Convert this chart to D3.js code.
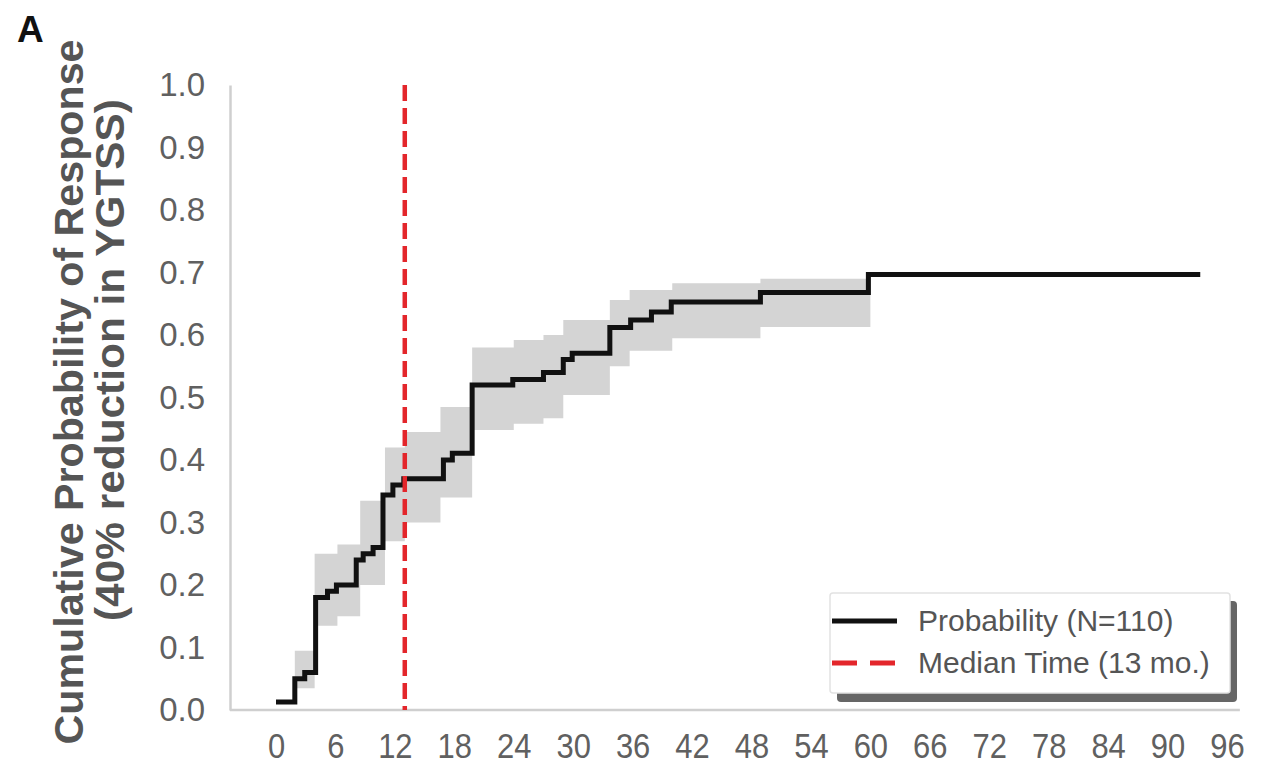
<!DOCTYPE html>
<html>
<head>
<meta charset="utf-8">
<script src="https://cdn.jsdelivr.net/npm/d3@7/dist/d3.min.js"></script>
<style>
  html, body { margin: 0; padding: 0; background: #fff; }
  svg { display: block; font-family: "Liberation Sans", Arial, sans-serif; }
</style>
</head>
<body>
<svg id="chart" width="1271" height="765"></svg>
<script>
// ---- data ----
const stepTimes  = [0, 1.9, 2.9, 4.0, 5.2, 6.1, 8.1, 8.8, 9.8, 10.8, 11.8, 12.9, 16.9, 17.8, 19.8, 23.9, 27.0, 29.0, 29.9, 33.7, 35.8, 37.9, 39.9, 48.9, 59.8, 93.3];
const stepProb   = [0.013, 0.05, 0.06, 0.18, 0.19, 0.20, 0.24, 0.25, 0.26, 0.344, 0.36, 0.37, 0.40, 0.411, 0.52, 0.529, 0.54, 0.561, 0.571, 0.612, 0.624, 0.637, 0.653, 0.668, 0.697, 0.697];
const bandTimes  = [1.9, 3.9, 6.2, 8.5, 11.0, 13.0, 16.6, 19.8, 24.0, 27.0, 29.0, 33.7, 35.7, 40.0, 48.9, 60.0];
const bandLower  = [0.035, 0.135, 0.15, 0.20, 0.27, 0.30, 0.34, 0.448, 0.458, 0.467, 0.504, 0.55, 0.575, 0.595, 0.613, 0.613];
const bandUpper  = [0.095, 0.25, 0.265, 0.335, 0.42, 0.445, 0.485, 0.58, 0.592, 0.60, 0.624, 0.656, 0.672, 0.683, 0.69, 0.69];
const medianTime = 13;
const xTicks = [0, 6, 12, 18, 24, 30, 36, 42, 48, 54, 60, 66, 72, 78, 84, 90, 96];
const yTicks = [0, 0.1, 0.2, 0.3, 0.4, 0.5, 0.6, 0.7, 0.8, 0.9, 1.0];
const legendLabels = ["Probability (N=110)", "Median Time (13 mo.)"];
const yLabelLines = ["Cumulative Probability of Response", "(40% reduction in YGTSS)"];
const panelLabel = "A";

// ---- drawing ----
const svg = d3.select("#chart");
const x = d3.scaleLinear().domain([0, 96]).range([276, 1227]);
const y = d3.scaleLinear().domain([0, 1]).range([710, 85]);

const curve = stepTimes.map((t, i) => ({t, p: stepProb[i]}));
const band = bandTimes.map((t, i) => ({t, lo: bandLower[i], hi: bandUpper[i]}));

// confidence band
svg.append("path")
  .datum(band)
  .attr("fill", "#d4d4d4")
  .attr("d", d3.area().curve(d3.curveStepAfter)
    .x(d => x(d.t)).y0(d => y(d.lo)).y1(d => y(d.hi)));

// axes
const axisColor = "#cfcfcf";
const yAxis = svg.append("g")
  .attr("transform", "translate(230,0)")
  .call(d3.axisLeft(y).tickValues(yTicks).tickSize(0).tickPadding(25).tickFormat(d3.format(".1f")));
yAxis.select(".domain").attr("stroke", axisColor).attr("stroke-width", 2.5);
yAxis.selectAll("text").attr("font-size", 33).attr("fill", "#606060");

const xAxis = svg.append("g")
  .attr("transform", "translate(0,710)")
  .call(d3.axisBottom(x).tickValues(xTicks).tickSize(0).tickPadding(22).tickFormat(d3.format("d")));
xAxis.select(".domain").remove();
xAxis.selectAll("text").attr("font-size", 36).attr("fill", "#606060")
  .attr("transform", "scale(0.86,1)");
svg.append("line")
  .attr("x1", x(-4.65)).attr("x2", x(97.3))
  .attr("y1", y(0)).attr("y2", y(0))
  .attr("stroke", axisColor).attr("stroke-width", 2.5);

// step line
svg.append("path")
  .datum(curve)
  .attr("fill", "none")
  .attr("stroke", "#111")
  .attr("stroke-width", 5)
  .attr("stroke-linejoin", "miter")
  .attr("d", d3.line().curve(d3.curveStepAfter).x(d => x(d.t)).y(d => y(d.p)));

// median line
svg.append("line")
  .attr("x1", x(medianTime)).attr("x2", x(medianTime))
  .attr("y1", y(1)).attr("y2", y(0))
  .attr("stroke", "#e3262b").attr("stroke-width", 4.5)
  .attr("stroke-dasharray", "16,7");

// legend
const lg = svg.append("g");
lg.append("rect").attr("x", 837).attr("y", 601).attr("width", 400).attr("height", 101)
  .attr("rx", 4).attr("fill", "#666");
lg.append("rect").attr("x", 830).attr("y", 593).attr("width", 400).attr("height", 100)
  .attr("rx", 3).attr("fill", "#fff").attr("stroke", "#e2e2e2").attr("stroke-width", 1.5);
lg.append("line").attr("x1", 832).attr("x2", 897).attr("y1", 621).attr("y2", 621)
  .attr("stroke", "#111").attr("stroke-width", 5);
lg.append("line").attr("x1", 832).attr("x2", 897).attr("y1", 663).attr("y2", 663)
  .attr("stroke", "#e3262b").attr("stroke-width", 5).attr("stroke-dasharray", "25,13");
lg.selectAll("text.lab").data(legendLabels).enter().append("text")
  .attr("class", "lab")
  .attr("x", 918).attr("y", (d, i) => 631 + i * 42)
  .attr("font-size", 30).attr("fill", "#555")
  .text(d => d);

// y label
const ylabPos = [{cx: 83, cy: 392, len: 705}, {cx: 124, cy: 360, len: 522}];
yLabelLines.forEach((s, i) => {
  svg.append("text")
    .attr("transform", `translate(${ylabPos[i].cx},${ylabPos[i].cy}) rotate(-90)`)
    .attr("text-anchor", "middle")
    .attr("font-size", 40).attr("font-weight", "bold").attr("fill", "#555")
    .attr("textLength", ylabPos[i].len).attr("lengthAdjust", "spacingAndGlyphs")
    .text(s);
});

// panel label
svg.append("text").attr("x", 17).attr("y", 42)
  .attr("font-size", 37).attr("font-weight", "bold").attr("fill", "#111")
  .text(panelLabel);
</script>
</body>
</html>
